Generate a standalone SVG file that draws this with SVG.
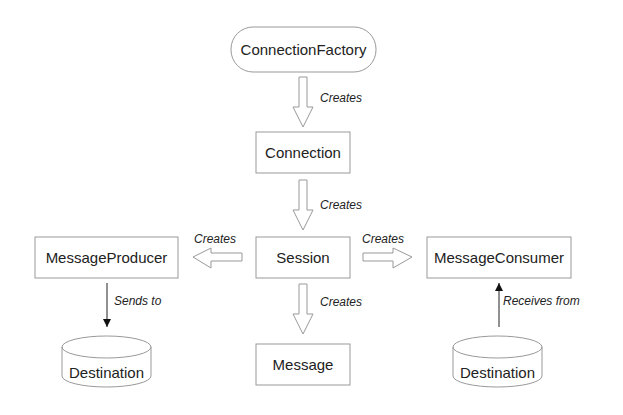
<svg xmlns="http://www.w3.org/2000/svg" width="623" height="415" viewBox="0 0 623 415">
<style>
.n{fill:#fff;stroke:#999;stroke-width:1}
.t{font-family:"Liberation Sans",Arial,sans-serif;font-size:15px;fill:#222;text-anchor:middle}
.l{font-family:"Liberation Sans",Arial,sans-serif;font-size:12px;font-style:italic;fill:#222}
.h{fill:#fff;stroke:#999;stroke-width:1}
.a{stroke:#222;stroke-width:1;fill:none}
</style>
<defs>
<marker id="ah" viewBox="0 0 10 10" refX="10" refY="5" markerWidth="8" markerHeight="8" markerUnits="userSpaceOnUse" orient="auto"><path d="M0,0L10,5L0,10z" fill="#111"/></marker>
</defs>
<rect width="623" height="415" fill="#fff"/>
<g id="connectors">
<path class="h" d="M299,77H307V107H313L303,127L293,107H299Z"/>
<text class="l" x="320" y="102">Creates</text>
<path class="h" d="M299,180H307V210H313L303,230L293,210H299Z"/>
<text class="l" x="320" y="209">Creates</text>
<path class="h" d="M299,284H307V314H313L303,334L293,314H299Z"/>
<text class="l" x="320" y="306">Creates</text>
<path class="h" d="M242,253V261H211V268L193,257L211,248V253Z"/>
<text class="l" x="194" y="243">Creates</text>
<path class="h" d="M363,253V261H393V268L412,257L393,248V253Z"/>
<text class="l" x="362" y="243">Creates</text>
<line class="a" x1="107" y1="283" x2="107" y2="327" marker-end="url(#ah)"/>
<text class="l" x="114" y="305">Sends to</text>
<line class="a" x1="499" y1="327" x2="499" y2="283" marker-end="url(#ah)"/>
<text class="l" x="503" y="305">Receives from</text>
</g>
<g id="connectionFactory"><rect class="n" x="231" y="27" width="145" height="45" rx="22"/><text class="t" x="303.5" y="55">ConnectionFactory</text></g>
<g id="connection"><rect class="n" x="256" y="132" width="94" height="41"/><text class="t" x="303" y="158">Connection</text></g>
<g id="session"><rect class="n" x="256" y="237" width="94" height="41"/><text class="t" x="303" y="263">Session</text></g>
<g id="messageProducer"><rect class="n" x="35" y="237" width="143" height="41"/><text class="t" x="106.5" y="263">MessageProducer</text></g>
<g id="messageConsumer"><rect class="n" x="427" y="237" width="144" height="41"/><text class="t" x="499" y="263">MessageConsumer</text></g>
<g id="message"><rect class="n" x="256" y="344" width="94" height="41"/><text class="t" x="303" y="370">Message</text></g>
<g id="destination1"><path class="n" d="M62,347V376A44.5,11 0 0 0 151,376V347A44.5,11 0 0 0 62,347A44.5,11 0 0 0 151,347"/><text class="t" x="106.5" y="378">Destination</text></g>
<g id="destination2"><path class="n" d="M453,347V376A44.5,11 0 0 0 542,376V347A44.5,11 0 0 0 453,347A44.5,11 0 0 0 542,347"/><text class="t" x="497.5" y="378">Destination</text></g>
</svg>
